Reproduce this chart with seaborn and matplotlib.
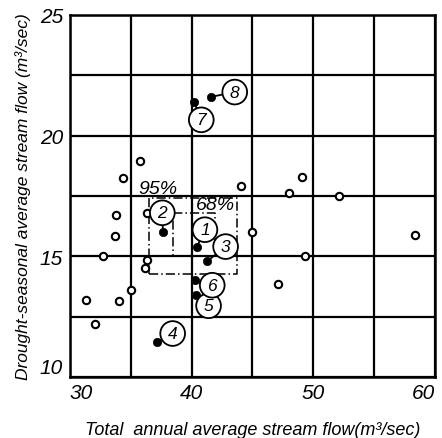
import matplotlib
matplotlib.use("Agg")
import matplotlib.pyplot as plt
import seaborn as sns
import pandas as pd
from matplotlib.ticker import MultipleLocator

# Open circles: other sites
open_x = [35.8, 34.4, 33.8, 33.7, 32.7, 36.3, 36.3, 36.2, 44.1, 45.0,
          31.3, 34.0, 35.0, 32.1, 58.4, 49.3, 47.1, 49.1, 48.0, 52.1]
open_y = [18.95, 18.25, 16.7, 15.85, 15.0, 16.8, 14.85, 14.5, 17.9, 16.0,
          13.2, 13.15, 13.6, 12.2, 15.9, 15.0, 13.85, 18.3, 17.6, 17.5]

# Numbered (filled) points and their label positions
num_labels = ["1", "2", "3", "4", "5", "6", "7", "8"]
num_x = [40.45, 37.65, 41.3, 37.2, 40.4, 40.3, 40.2, 41.6]
num_y = [15.4, 16.0, 14.8, 11.45, 13.4, 14.0, 21.4, 21.6]
lab_x = [41.1, 37.6, 42.8, 38.45, 41.4, 41.7, 40.8, 43.55]
lab_y = [16.1, 16.8, 15.4, 11.8, 12.95, 13.8, 20.65, 21.8]

# Confidence boxes (x0, x1, y0, y1)
box95 = [36.5, 43.7, 14.25, 17.42]
box68 = [38.5, 41.95, 15.0, 16.8]

x_ticks = [30, 40, 50, 60]
y_ticks = [10, 15, 20, 25]

sns.set_style("white")
plt.rcParams['font.family'] = ['Liberation Sans', 'DejaVu Sans']
plt.rcParams['text.color'] = 'black'
plt.rcParams['axes.labelcolor'] = 'black'
plt.rcParams['xtick.color'] = 'black'
plt.rcParams['ytick.color'] = 'black'

fig = plt.figure(figsize=(4.42, 4.39), dpi=100)
ax = fig.add_axes([0.158, 0.139, 0.826, 0.825])

df_open = pd.DataFrame({"x": open_x, "y": open_y})
df_num = pd.DataFrame({"x": num_x, "y": num_y, "lab": num_labels})

ax.set_xlim(30, 60)
ax.set_ylim(10, 25)
ax.xaxis.set_minor_locator(MultipleLocator(5))
ax.yaxis.set_minor_locator(MultipleLocator(2.5))
ax.set_xticks(x_ticks)
ax.set_yticks(y_ticks)
ax.grid(True, which="both", color="black", linewidth=1.6)
ax.set_axisbelow(True)
ax.tick_params(which="both", length=0, labelsize=15)
ax.tick_params(axis="x", pad=4)
ax.tick_params(axis="y", pad=5)
for lab in ax.get_xticklabels() + ax.get_yticklabels():
    lab.set_fontstyle("italic")
xl = ax.get_xticklabels()
xl[-1].set_horizontalalignment("right")
xl[0].set_horizontalalignment("left")
yl = ax.get_yticklabels()
yl[0].set_verticalalignment("bottom")
for s in ax.spines.values():
    s.set_color("black")
    s.set_linewidth(1.8)

# boxes
for (x0, x1, y0, y1) in [box95, box68]:
    ax.plot([x0, x1, x1, x0, x0], [y0, y0, y1, y1, y0], color="black",
            lw=1.1, linestyle=(0, (6, 2, 1, 2)), zorder=2)
ax.text(37.25, 17.8, "95%", fontsize=14, fontstyle="italic", ha="center",
        va="center", zorder=3)
ax.text(42.0, 17.15, "68%", fontsize=14, fontstyle="italic", ha="center",
        va="center", zorder=3)

sns.scatterplot(data=df_open, x="x", y="y", ax=ax, s=28, facecolor="white",
                edgecolor="black", linewidth=1.5, zorder=4, legend=False)
sns.scatterplot(data=df_num, x="x", y="y", ax=ax, s=36, color="black",
                edgecolor="black", linewidth=0.5, zorder=4, legend=False)

for lb, px, py, tx, ty in zip(num_labels, num_x, num_y, lab_x, lab_y):
    ax.annotate(lb, xy=(px, py), xytext=(tx, ty), fontsize=12.5,
                fontstyle="italic", ha="center", va="center", zorder=5,
                bbox=dict(boxstyle="circle,pad=0.28", fc="white", ec="black", lw=1.3),
                arrowprops=dict(arrowstyle="-", color="black", lw=1.3,
                                shrinkA=0, shrinkB=0))

ax.set_xlabel("Total  annual average stream flow(m³/sec)", fontsize=13,
              fontstyle="italic", labelpad=14)
ax.set_ylabel("Drought-seasonal average stream flow (m³/sec)", fontsize=12.5,
              fontstyle="italic", labelpad=6)

fig.savefig("out.png", dpi=100)
